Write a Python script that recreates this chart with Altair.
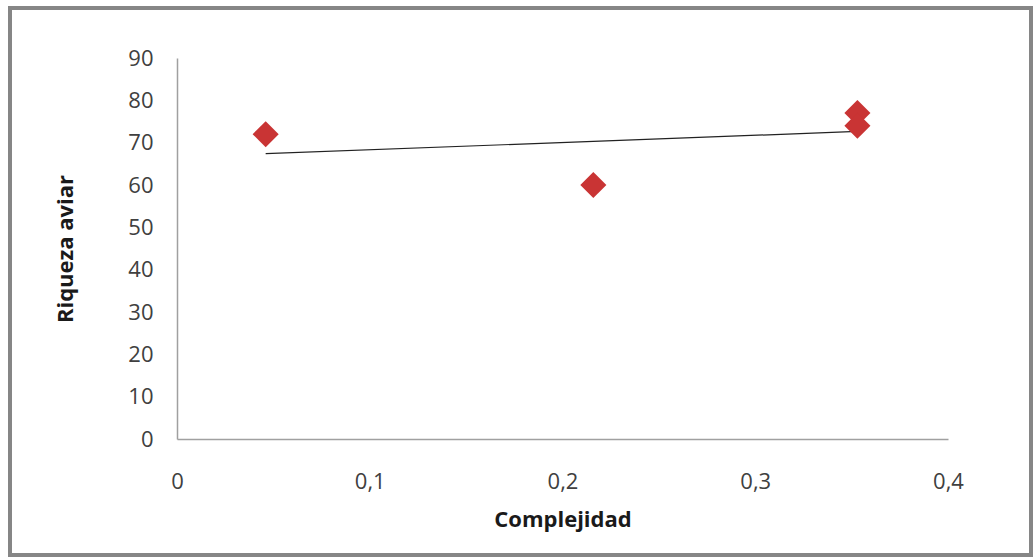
import altair as alt
import pandas as pd

complejidad = [0.046, 0.216, 0.353, 0.353]
riqueza = [72, 60, 77, 74]
x_ticks = [0, 0.1, 0.2, 0.3, 0.4]
y_ticks = [0, 10, 20, 30, 40, 50, 60, 70, 80, 90]

df = pd.DataFrame({"Complejidad": complejidad, "Riqueza aviar": riqueza})

FONT = "Open Sans"
LEFT, TOP, W, H = 177, 58, 771, 381

x_enc = alt.X(
    "Complejidad:Q",
    scale=alt.Scale(domain=[0, 0.4], nice=False, zero=True),
    axis=alt.Axis(
        values=x_ticks, format=".1~f",
        labelExpr="replace(datum.label, '.', ',')",
        title="Complejidad", grid=False, ticks=False, labelFlush=False,
        domainColor="#a0a0a0", domainWidth=1.5,
        labelFont=FONT, labelFontSize=22, labelColor="#404040", labelPadding=32,
        titleFont=FONT, titleFontSize=22, titleFontWeight="bold", titleColor="#1a1a1a",
        titlePadding=17,
    ),
)
y_enc = alt.Y(
    "Riqueza aviar:Q",
    scale=alt.Scale(domain=[0, 90], nice=False),
    axis=alt.Axis(
        values=y_ticks, title="Riqueza aviar", grid=False, ticks=False, labelFlush=False,
        domainColor="#a0a0a0", domainWidth=1.5,
        labelFont=FONT, labelFontSize=22, labelColor="#404040", labelPadding=24,
        titleFont=FONT, titleFontSize=22, titleFontWeight="bold", titleColor="#1a1a1a",
        titlePadding=50,
    ),
)

points = alt.Chart(df).mark_point(
    shape="diamond", filled=True, size=680, color="#c93434", opacity=1
).encode(x=x_enc, y=y_enc)

trend = alt.Chart(df).transform_regression(
    "Complejidad", "Riqueza aviar"
).mark_line(color="#222222", strokeWidth=1.2).encode(
    x="Complejidad:Q", y="Riqueza aviar:Q"
)

border = alt.Chart(pd.DataFrame({"a": [0]})).mark_rect(
    fill=None, stroke="#868686", strokeWidth=4
).encode(
    x=alt.value(10 - LEFT), x2=alt.value(1031 - LEFT),
    y=alt.value(8 - TOP), y2=alt.value(555 - TOP),
)

chart = alt.layer(border, trend, points).properties(
    width=W, height=H,
    background="white",
    autosize=alt.AutoSizeParams(type="none"),
    padding={"left": LEFT, "top": TOP, "right": 1034 - LEFT - W, "bottom": 559 - TOP - H},
).configure_view(strokeWidth=0, stroke="transparent")

chart.save("out.html", embed_options={"renderer": "svg", "actions": False})
